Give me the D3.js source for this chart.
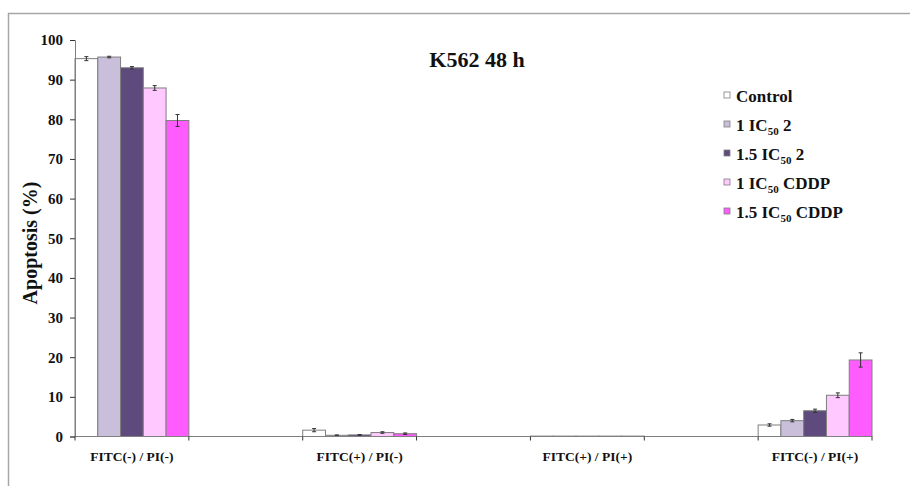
<!DOCTYPE html>
<html>
<head>
<meta charset="utf-8">
<script src="https://cdn.jsdelivr.net/npm/d3@7"></script>
<style>
  html, body { margin: 0; padding: 0; background: #fff; }
  svg { display: block; }
  text { font-family: "Liberation Serif", "Times New Roman", serif; font-weight: bold; fill: #111; }
</style>
</head>
<body>
<svg id="chart" width="910" height="486"></svg>
<script>
// Annexin V-FITC / PI staining, K562 cells after 48 h
const categories = ["FITC(-) / PI(-)", "FITC(+) / PI(-)", "FITC(+) / PI(+)", "FITC(-) / PI(+)"];
const seriesNames = ["Control", "1 IC50 2", "1.5 IC50 2", "1 IC50 CDDP", "1.5 IC50 CDDP"];
const seriesColors = ["#ffffff", "#c9bfdb", "#5e4a7c", "#ffc8ff", "#ff5cff"];
const control      = [95.3, 1.6, 0.1, 2.9];
const ic50_2       = [95.7, 0.3, 0.1, 4.0];
const ic50x15_2    = [93.0, 0.4, 0.1, 6.5];
const ic50_cddp    = [87.9, 1.0, 0.1, 10.4];
const ic50x15_cddp = [79.7, 0.7, 0.1, 19.3];
const errControl      = [0.5, 0.4, 0.0, 0.3];
const errIc50_2       = [0.2, 0.1, 0.0, 0.3];
const errIc50x15_2    = [0.3, 0.1, 0.0, 0.4];
const errIc50_cddp    = [0.6, 0.2, 0.0, 0.6];
const errIc50x15_cddp = [1.5, 0.2, 0.0, 1.8];
const yTicks = [0, 10, 20, 30, 40, 50, 60, 70, 80, 90, 100];

const values = [control, ic50_2, ic50x15_2, ic50_cddp, ic50x15_cddp];
const errors = [errControl, errIc50_2, errIc50x15_2, errIc50_cddp, errIc50x15_cddp];

const svg = d3.select("#chart");

// outer frame (top and left edges)
svg.append("path")
  .attr("d", "M8.5,486 V13.5 H910")
  .attr("fill", "none").attr("stroke", "#a6a6a6").attr("stroke-width", 1.5);

const plotLeft = 75, plotRight = 872, plotTop = 40, plotBottom = 436.5;

// the category axis has a blank slot between each pair of groups
const slots = [];
categories.forEach((c, i) => { slots.push(c); if (i < categories.length - 1) slots.push("gap" + i); });

const x = d3.scaleBand().domain(slots).range([plotLeft, plotRight]).padding(0);
const xs = d3.scaleBand().domain(seriesNames).range([0, x.bandwidth()]).padding(0);
const y = d3.scaleLinear().domain([0, 100]).range([plotBottom, plotTop]);

// bars
const g = svg.append("g");
categories.forEach((cat, ci) => {
  seriesNames.forEach((s, si) => {
    const v = values[si][ci];
    const bx = x(cat) + xs(s);
    g.append("rect")
      .attr("x", bx).attr("y", y(v))
      .attr("width", xs.bandwidth()).attr("height", y(0) - y(v))
      .attr("fill", seriesColors[si])
      .attr("stroke", "#7f7f7f").attr("stroke-width", 1);
    const e = errors[si][ci];
    if (e > 0) {
      const cx = bx + xs.bandwidth() / 2;
      g.append("line").attr("x1", cx).attr("x2", cx)
        .attr("y1", y(v - e)).attr("y2", y(v + e))
        .attr("stroke", "#333").attr("stroke-width", 1);
      [v - e, v + e].forEach(t => g.append("line")
        .attr("x1", cx - 2).attr("x2", cx + 2)
        .attr("y1", y(t)).attr("y2", y(t))
        .attr("stroke", "#333").attr("stroke-width", 1));
    }
  });
});

// y axis
const yAxis = d3.axisLeft(y).tickValues(yTicks).tickSize(5).tickPadding(7);
const ya = svg.append("g").attr("transform", `translate(${plotLeft},0)`).call(yAxis);
ya.select(".domain").attr("stroke", "#808080");
ya.selectAll(".tick line").attr("stroke", "#333");
ya.selectAll(".tick text").style("font-size", "15px").attr("fill", "#111");

// x axis: ticks at slot boundaries, labels under the data slots
const xa = svg.append("g");
xa.append("line").attr("x1", plotLeft).attr("x2", plotRight).attr("y1", plotBottom).attr("y2", plotBottom)
  .attr("stroke", "#808080").attr("stroke-width", 1);
const bounds = slots.map(s => x(s)).concat([plotRight]);
bounds.forEach(b => xa.append("line")
  .attr("x1", b).attr("x2", b).attr("y1", plotBottom).attr("y2", plotBottom + 4)
  .attr("stroke", "#333"));
categories.forEach(c => xa.append("text")
  .attr("x", x(c) + x.bandwidth() / 2).attr("y", plotBottom + 24)
  .attr("text-anchor", "middle").style("font-size", "13.5px").text(c));

// y axis title
svg.append("text")
  .attr("transform", "translate(37,243) rotate(-90)")
  .attr("text-anchor", "middle").style("font-size", "20px")
  .text("Apoptosis (%)");

// chart title
svg.append("text")
  .attr("x", 477).attr("y", 67).attr("text-anchor", "middle")
  .style("font-size", "22px").text("K562 48 h");

// legend with IC50 subscripts
const legend = svg.append("g");
const legendY = d3.scalePoint().domain(seriesNames).range([97, 213]);
seriesNames.forEach((s, i) => {
  const ly = legendY(s);
  legend.append("rect").attr("x", 724).attr("y", ly - 5).attr("width", 6).attr("height", 6)
    .attr("fill", seriesColors[i]).attr("stroke", "#7f7f7f").attr("stroke-width", 0.8);
  const t = legend.append("text").attr("x", 736).attr("y", ly + 5).style("font-size", "17px");
  const m = s.match(/^(.*IC)50(.*)$/);
  if (m) {
    t.append("tspan").text(m[1]);
    t.append("tspan").attr("dy", 4).style("font-size", "11px").text("50");
    t.append("tspan").attr("dy", -4).text(m[2]);
  } else {
    t.text(s);
  }
});
</script>
</body>
</html>
